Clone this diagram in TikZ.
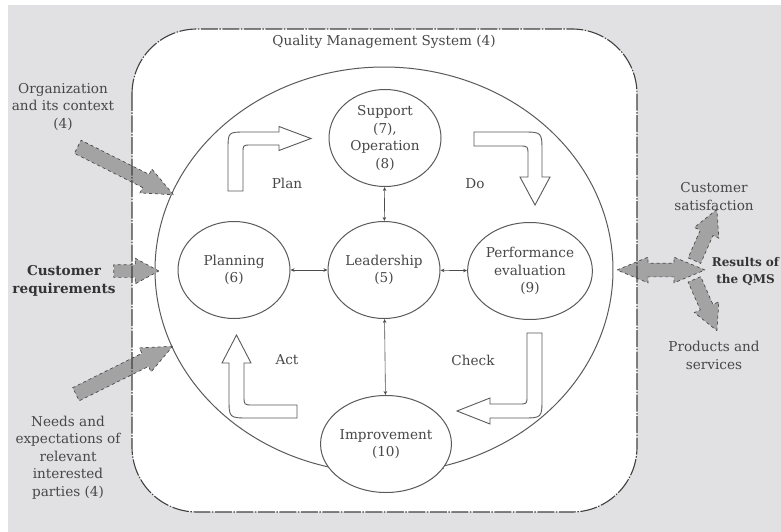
\documentclass[tikz,border=0pt]{standalone}
\usepackage{fontspec}
\setmainfont{DejaVu Serif}
\usetikzlibrary{shapes.geometric,shapes.arrows,arrows.meta}
\definecolor{bggray}{HTML}{E1E1E3}
\definecolor{txt}{HTML}{474747}
\definecolor{ln}{HTML}{5A5A5A}
\definecolor{arrfill}{HTML}{A3A3A3}
\definecolor{arrline}{HTML}{4A4A4A}
\begin{document}
\begin{tikzpicture}[x=1pt,y=-1pt,
  every node/.style={font=\fontsize{13.6}{17.5}\selectfont, text=txt, inner sep=0pt},
  proc/.style={ellipse, draw=ln, line width=1pt, minimum width=112pt, minimum height=97pt, align=center, fill=white},
  lbl/.style={align=center},
  blbl/.style={align=center, font=\fontsize{13.6}{17.5}\selectfont\bfseries, text=black!80},
  biarr/.style={draw=black!70, line width=0.6pt, {Stealth[length=4pt,width=3.5pt]}-{Stealth[length=4pt,width=3.5pt]}},
  pdca/.style={draw=ln, line width=0.9pt, fill=white, line join=miter},
  gin/.style={single arrow, draw=arrline, fill=arrfill, dashed, line width=0.7pt, single arrow head indent=0pt, inner xsep=0pt},
  gdbl/.style={double arrow, draw=arrline, fill=arrfill, dashed, line width=0.7pt, double arrow head indent=0pt, inner xsep=0pt},
  qms/.style={draw=black!75, line width=1.1pt, dash pattern=on 17pt off 1.5pt on 1.5pt off 1.5pt, rounded corners=65pt},
  cyc/.style={draw=ln, line width=1pt, -{Latex[length=9pt,width=6pt]}},
]
\useasboundingbox (0,0) rectangle (781,532);
% background
\fill[white] (0,0) rectangle (781,532);
\fill[bggray] (8,5) rectangle (781,532);
% QMS box fill
\fill[white, rounded corners=65pt] (132,29) rectangle (637,512);
% big cycle arc
\draw[cyc] plot[domain=258.5:-77.3, samples=200, smooth] ({384+229*cos(\x)}, {270-203*sin(\x)});
% PDCA block arrows
\draw[pdca] (228,191) -- (228,150) .. controls (228,132) .. (246,132) -- (279,132) -- (279,126.5) -- (311,138.5) -- (279,150.5) -- (279,145) -- (251,145) .. controls (243,145) .. (243,153) -- (243,191) -- cycle;
\draw[pdca] (474,132) -- (522,132) .. controls (542,132) .. (542,152) -- (542,177) -- (550,177) -- (535,205) -- (520,177) -- (528,177) -- (528,155) .. controls (528,146) .. (519,146) -- (474,146) -- cycle;
\draw[pdca] (527,333) -- (542,333) -- (542,398) .. controls (542,418) .. (522,418) -- (490,418) -- (490,424) -- (457,411) -- (490,398) -- (490,404) -- (519,404) .. controls (527,404) .. (527,396) -- cycle;
\draw[pdca] (297,405) -- (297,418) -- (249,418) .. controls (229,418) .. (229,398) -- (229,363) -- (222,363) -- (236.5,335) -- (251,363) -- (244,363) -- (244,396) .. controls (244,405) .. (253,405) -- cycle;
% gray input arrows
\node[gin, inner ysep=7pt, minimum height=107pt, single arrow head extend=6pt, single arrow tip angle=47, rotate=-26.6] (a1) at (118,167) {};
\node[gin, inner ysep=6pt, minimum height=45pt, single arrow head extend=6.5pt, single arrow tip angle=57] (a2) at (130.5,271) {};
\node[gin, inner ysep=7pt, minimum height=108pt, single arrow head extend=6pt, single arrow tip angle=47, rotate=26.4] (a3) at (116.75,374) {};
% output arrows
\node[gin, inner ysep=6.5pt, minimum height=56pt, single arrow head extend=6.5pt, single arrow tip angle=55, rotate=66.3] (o1) at (703,241) {};
\node[gin, inner ysep=6.5pt, minimum height=56pt, single arrow head extend=6.5pt, single arrow tip angle=55, rotate=-66.3] (o2) at (703,299) {};
\node[gdbl, inner ysep=6.5pt, minimum height=88pt, double arrow head extend=6pt, double arrow tip angle=45] (o0) at (661,270) {};
% QMS border
\draw[qms] (132,29) rectangle (637,512);
\node (title) at (384,42) {Quality Management System (4)};
% process nodes
\node[proc] (sup) at (385,138) {Support\\(7),\\Operation\\(8)};
\node[proc] (plan) at (234,270) {Planning\\(6)};
\node[proc] (lead) at (384,270) {Leadership\\(5)};
\node[proc, minimum width=106pt] (perf) at (530,271) {Performance\\evaluation\\(9)};
\node[proc] (impr) at (386,444) {Improvement\\(10)};
% connectors
\draw[biarr] (sup) -- (lead);
\draw[biarr] (plan) -- (lead);
\draw[biarr] (lead) -- (perf);
\draw[biarr] (lead) -- (impr);
% PDCA labels
\node (lplan) at (287,183) {Plan};
\node (ldo) at (475,184) {Do};
\node (lact) at (287,360) {Act};
\node (lcheck) at (473,360) {Check};
% outside labels
\node[lbl] (org) at (63,107) {Organization\\and its context\\(4)};
\node[blbl] (creq) at (64,281) {Customer\\requirements};
\node[lbl] (needs) at (68,457.5) {Needs and\\expectations of\\relevant\\interested\\parties (4)};
\node[lbl] (csat) at (714,196.5) {Customer\\satisfaction};
\node[blbl, font=\fontsize{12}{17}\selectfont\bfseries] (res) at (745.5,271.5) {Results of\\the QMS};
\node[lbl] (prod) at (714,355.5) {Products and\\services};
\end{tikzpicture}
\end{document}
